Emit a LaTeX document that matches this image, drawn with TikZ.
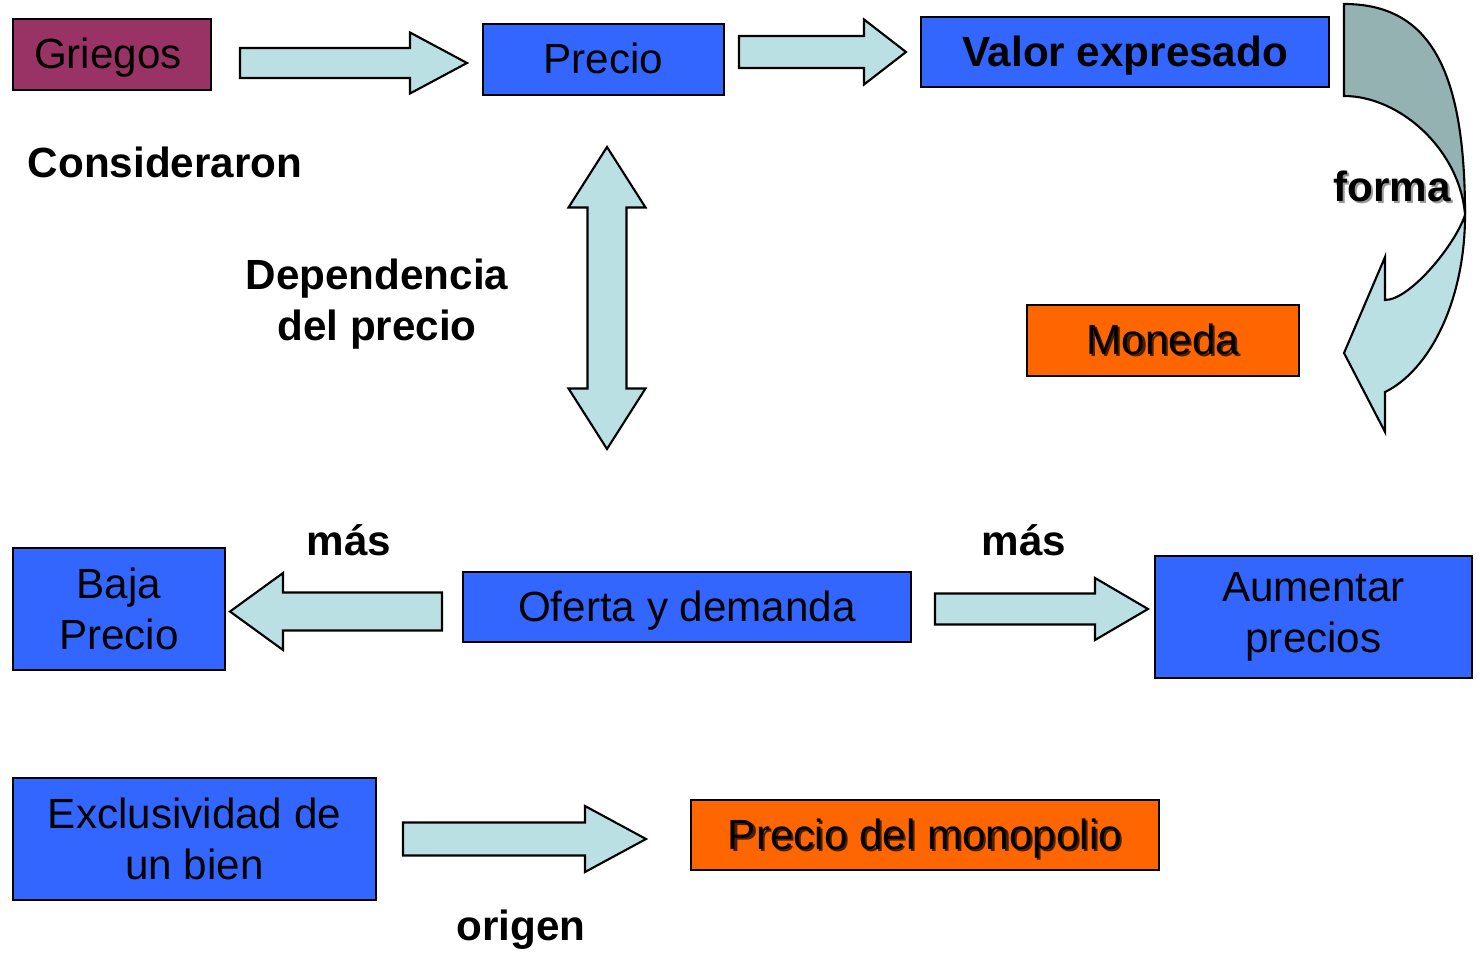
\documentclass[tikz,border=0pt]{standalone}
\usepackage{fontspec}
\setmainfont{Liberation Sans}
\usetikzlibrary{calc}

\definecolor{boxblue}{HTML}{3366FF}
\definecolor{greekpink}{HTML}{993366}
\definecolor{coinorange}{HTML}{FF6600}
\definecolor{arrowfill}{HTML}{BBE0E3}
\definecolor{arrowback}{HTML}{95B2B3}
\definecolor{coinshadow}{HTML}{4A1E00}

% text with a soft offset shadow
\newcommand{\shtext}[2]{\rlap{\kern0.6pt\raisebox{-0.6pt}{\textcolor{#1}{#2}}}#2}

% block arrow: tail, tip, half shaft, half head, head length
\newcommand{\blockarrow}[5]{%
  \filldraw[arrowbody] ($(#1)!#3!90:(#2)$)
    -- ($(#2)!#5!(#1)!#3!-90:(#1)$)
    -- ($(#2)!#5!(#1)!#4!-90:(#1)$)
    -- (#2)
    -- ($(#2)!#5!(#1)!#4!90:(#1)$)
    -- ($(#2)!#5!(#1)!#3!90:(#1)$)
    -- ($(#1)!#3!-90:(#2)$) -- cycle;}

% block arrow with two heads: tip, tip, half shaft, half head, head length
\newcommand{\dblockarrow}[5]{%
  \filldraw[arrowbody] (#1)
    -- ($(#1)!#5!(#2)!#4!90:(#2)$)
    -- ($(#1)!#5!(#2)!#3!90:(#2)$)
    -- ($(#2)!#5!(#1)!#3!-90:(#1)$)
    -- ($(#2)!#5!(#1)!#4!-90:(#1)$)
    -- (#2)
    -- ($(#2)!#5!(#1)!#4!90:(#1)$)
    -- ($(#2)!#5!(#1)!#3!90:(#1)$)
    -- ($(#1)!#5!(#2)!#3!-90:(#2)$)
    -- ($(#1)!#5!(#2)!#4!-90:(#2)$) -- cycle;}

\begin{document}
\begin{tikzpicture}[x=0.01cm, y=-0.01cm,
    every node/.style={font=\fontsize{12}{14.4}\selectfont, inner sep=0pt},
    box/.style={draw, line width=0.6pt, fill=boxblue, align=center},
    oneline/.style={text height=8pt, text depth=0pt},
    coinbox/.style={box, oneline, fill=coinorange},
    boldtext/.style={font=\fontsize{12}{14.5}\selectfont\bfseries, align=center},
    arrowbody/.style={draw, line width=0.6pt, fill=arrowfill, line join=miter}]

    \useasboundingbox (0,0) rectangle (1480,958);

    % boxes
    \node[box, oneline, fill=greekpink, minimum width=1.98cm, minimum height=0.71cm] (griegos) at (112,54.5) {Griegos\kern2.3pt};
    \node[box, oneline, minimum width=2.41cm, minimum height=0.71cm] (precio) at (603.5,59.5) {Precio};
    \node[box, oneline, minimum width=4.08cm, minimum height=0.70cm, font=\fontsize{12}{14.4}\selectfont\bfseries] (valor) at (1125,52) {Valor expresado};
    \node[coinbox, minimum width=2.72cm, minimum height=0.71cm] (moneda) at (1163,340.5) {\shtext{coinshadow}{Moneda}};
    \node[box, minimum width=2.12cm, minimum height=1.22cm] (baja) at (119,609) {Baja\\Precio};
    \node[box, oneline, minimum width=4.48cm, minimum height=0.70cm] (oferta) at (687,607) {Oferta y demanda};
    \node[box, minimum width=3.17cm, minimum height=1.22cm] (aumentar) at (1313.5,617) {Aumentar\\precios};
    \node[box, minimum width=3.63cm, minimum height=1.22cm] (exclusividad) at (194.5,839) {Exclusividad de\\un bien};
    \node[coinbox, minimum width=4.68cm, minimum height=0.70cm] (monopolio) at (925,835) {\shtext{coinshadow}{Precio del monopolio}};

    % straight arrows
    \coordinate (gp-tail) at (240,63);   \coordinate (gp-tip) at (467,63);
    \coordinate (pv-tail) at (739,52);   \coordinate (pv-tip) at (906,52);
    \coordinate (ob-tail) at (442,611.5);\coordinate (ob-tip) at (230,611.5);
    \coordinate (oa-tail) at (935,609);  \coordinate (oa-tip) at (1148,609);
    \coordinate (em-tail) at (403,839);  \coordinate (em-tip) at (646,839);
    \coordinate (dep-top) at (607,147);  \coordinate (dep-bot) at (607,449);
    \blockarrow{gp-tail}{gp-tip}{0.15cm}{0.305cm}{0.57cm}
    \blockarrow{pv-tail}{pv-tip}{0.16cm}{0.325cm}{0.42cm}
    \blockarrow{ob-tail}{ob-tip}{0.19cm}{0.385cm}{0.53cm}
    \blockarrow{oa-tail}{oa-tip}{0.155cm}{0.31cm}{0.53cm}
    \blockarrow{em-tail}{em-tip}{0.165cm}{0.33cm}{0.61cm}
    \dblockarrow{dep-top}{dep-bot}{0.195cm}{0.385cm}{0.605cm}

    % curved arrow
    \filldraw[arrowbody, fill=arrowback] (1344,4) .. controls (1430,4) and (1465,70) .. (1465,215)
        .. controls (1460,150) and (1400,96) .. (1344,96) -- cycle;
    \filldraw[arrowbody] (1465,215) .. controls (1455,245) and (1410,300) .. (1385,300)
        -- (1385,257) -- (1344,353) -- (1385,432) -- (1385,392)
        .. controls (1430,370) and (1465,300) .. (1465,215) -- cycle;

    % labels
    \node[boldtext] (consideraron) at (165,162) {Consideraron};
    \node[boldtext] (dependencia) at (377,304) {Dependencia\\del precio};
    \node[boldtext] (mas-left) at (349,540) {más};
    \node[boldtext] (mas-right) at (1024,540) {más};
    \node[boldtext, oneline] (origen) at (521,926) {origen};
    \node[boldtext] (forma) at (1392,187) {\shtext{black!40}{forma}};
\end{tikzpicture}
\end{document}
